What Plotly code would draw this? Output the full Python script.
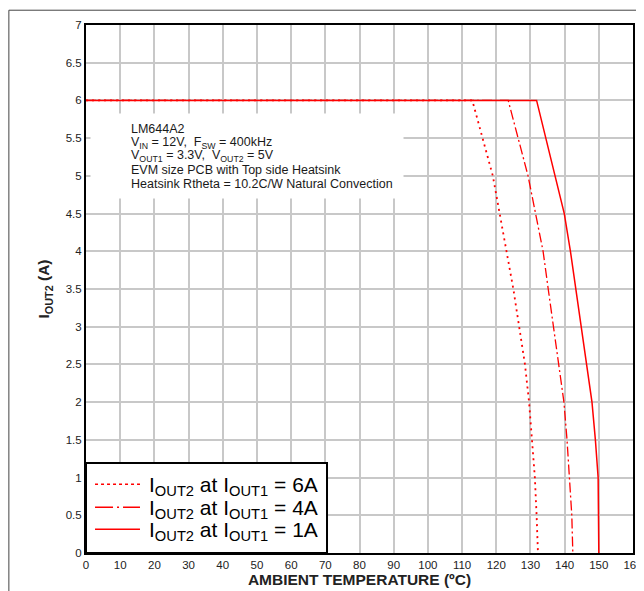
import plotly.graph_objects as go

FONT = "Arial, Liberation Sans, sans-serif"
RED = "#ff0000"

# IOUT2 at IOUT1 = 6A
temp_6a = [0, 113, 119, 123, 125, 126.7, 128.4, 129.6, 130.4, 131.3, 131.8, 132.2]
iout_6a = [6, 6, 5, 4, 3.5, 3, 2.5, 2, 1.5, 1, 0.5, 0]

# IOUT2 at IOUT1 = 4A
temp_4a = [0, 123.5, 129.3, 133.7, 135.2, 136.8, 138.4, 139.8, 140.7, 141.5, 142.1, 142.4]
iout_4a = [6, 6, 5, 4, 3.5, 3, 2.5, 2, 1.5, 1, 0.5, 0]

# IOUT2 at IOUT1 = 1A
temp_1a = [0, 131.8, 137.2, 139.9, 141.7, 143.3, 144.9, 146.6, 148, 149, 149.8, 150]
iout_1a = [6, 6, 5, 4.5, 4, 3.5, 3, 2.5, 2, 1.5, 1, 0]

x_ticks = list(range(0, 161, 10))
y_ticks = [0, 0.5, 1, 1.5, 2, 2.5, 3, 3.5, 4, 4.5, 5, 5.5, 6, 6.5, 7]

note_lines = [
    "LM644A2",
    "V<sub>IN</sub> = 12V,  F<sub>SW</sub> = 400kHz",
    "V<sub>OUT1</sub> = 3.3V,  V<sub>OUT2</sub> = 5V",
    "EVM size PCB with Top side Heatsink",
    "Heatsink Rtheta = 10.2C/W Natural Convection",
]

legend_names = [
    "I<sub>OUT2</sub> at I<sub>OUT1</sub> = 6A",
    "I<sub>OUT2</sub> at I<sub>OUT1</sub> = 4A",
    "I<sub>OUT2</sub> at I<sub>OUT1</sub> = 1A",
]
plot_dashes = ["2px,4px", "10px,3px,2px,3px", "solid"]
legend_dashes = ["3px,3px", "18px,4px,2px,4px", "solid"]
line_widths = [1.8, 1.3, 1.5]

fig = go.Figure()
for xs, ys, name, dash, w in zip([temp_6a, temp_4a, temp_1a],
                                 [iout_6a, iout_4a, iout_1a],
                                 legend_names, plot_dashes, line_widths):
    fig.add_trace(go.Scatter(
        x=xs, y=ys, mode="lines", name=name, showlegend=False,
        line=dict(color=RED, width=w, dash=dash),
    ))

# white box behind the note (annotation always sits above the grid)
fig.add_annotation(
    xref="paper", yref="paper", x=0.007, y=0.833,
    xanchor="left", yanchor="top", showarrow=False,
    width=310, height=82, bgcolor="white", text=" ",
)
for i, line in enumerate(note_lines):
    fig.add_annotation(
        xref="paper", yref="paper", x=0.0786, y=0.803 - i * 0.026,
        xanchor="left", yanchor="middle", align="left", showarrow=False,
        font=dict(family=FONT, size=12.5, color="#1a1a1a"),
        text=line,
    )

# legend box drawn by hand to match the tight row spacing
fig.add_shape(type="rect", xref="paper", yref="paper", layer="above",
              x0=0, x1=0.4406, y0=0, y1=0.1705,
              fillcolor="white", line=dict(color="black", width=2))
row_y = [0.130, 0.0866, 0.0449]
for ry, name, dash in zip(row_y, legend_names, legend_dashes):
    fig.add_shape(type="line", xref="paper", yref="paper", layer="above",
                  x0=0.0165, x1=0.0987, y0=ry, y1=ry,
                  line=dict(color=RED, width=1.5, dash=dash))
    fig.add_annotation(
        xref="paper", yref="paper", x=0.112, y=ry - 0.004,
        xanchor="left", yanchor="middle", showarrow=False,
        font=dict(family=FONT, size=21, color="black"),
        text=name,
    )

# thin outer frame around the figure
fig.add_shape(type="rect", xref="paper", yref="paper",
              x0=-0.141, x1=1.1, y0=-0.2, y1=1.028,
              line=dict(color="#444444", width=1))

fig.update_layout(
    width=636, height=583,
    paper_bgcolor="white", plot_bgcolor="white",
    margin=dict(l=78, r=11, t=17, b=38),
    font=dict(family=FONT, size=11.5, color="#222222"),
    showlegend=False,
)
fig.update_xaxes(
    range=[0, 160], tickvals=x_ticks, ticks="", automargin=False,
    showgrid=True, gridcolor="#c8c8c8", gridwidth=1.5,
    showline=True, linecolor="black", linewidth=2, mirror=True,
    zeroline=False, tickfont=dict(size=11.5),
    title=dict(text="<b>AMBIENT TEMPERATURE (ºC)</b>", font=dict(size=15.5), standoff=3),
)
fig.update_yaxes(
    range=[0, 7], tickvals=y_ticks, ticks="", automargin=False,
    showgrid=True, gridcolor="#c8c8c8", gridwidth=1.5,
    showline=True, linecolor="black", linewidth=2, mirror=True,
    zeroline=False, tickfont=dict(size=11.5),
    title=dict(text="<b>I<sub>OUT2</sub> (A)</b>", font=dict(size=15.5), standoff=12),
)

fig.write_html("out.html")
